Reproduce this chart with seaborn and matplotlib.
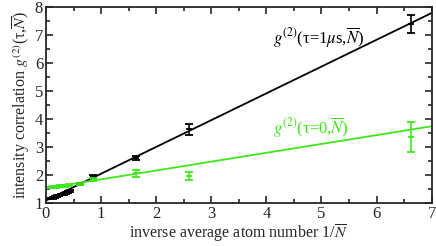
import matplotlib
matplotlib.use("Agg")
import matplotlib.pyplot as plt
from matplotlib.ticker import MultipleLocator
import seaborn as sns
import numpy as np

# black: tau = 1 us
x_black = [0.08, 0.12, 0.16, 0.20, 0.24, 0.28, 0.32, 0.36, 0.40, 0.44, 0.62, 0.86, 1.63, 2.60, 6.62]
y_black = [1.17, 1.20, 1.23, 1.25, 1.28, 1.31, 1.34, 1.37, 1.40, 1.43, 1.70, 1.97, 2.62, 3.65, 7.40]
e_black = [0.03, 0.03, 0.03, 0.03, 0.03, 0.03, 0.03, 0.03, 0.03, 0.03, 0.04, 0.05, 0.07, 0.20, 0.33]

# green: tau = 0
x_green = [0.06, 0.10, 0.14, 0.18, 0.22, 0.26, 0.30, 0.34, 0.38, 0.42, 0.62, 0.86, 1.63, 2.60, 6.62]
y_green = [1.56, 1.57, 1.58, 1.59, 1.60, 1.61, 1.62, 1.63, 1.64, 1.65, 1.70, 1.85, 2.07, 1.98, 3.38]
e_green = [0.03, 0.03, 0.03, 0.03, 0.03, 0.03, 0.03, 0.03, 0.03, 0.03, 0.04, 0.05, 0.12, 0.13, 0.53]

# linear fits: intercept, slope
fit_black = [1.10, 0.957]
fit_green = [1.54, 0.316]

black = "black"
green = "#3ee81c"

sns.set_style("ticks")
plt.rcParams["font.family"] = ["Liberation Serif", "DejaVu Serif"]
plt.rcParams["mathtext.fontset"] = "stix"

fig = plt.figure(figsize=(4.36, 2.46), dpi=100)
ax = fig.add_axes([0.1055, 0.1736, 0.8845, 0.7964])

xx = np.array([0, 7])
sns.lineplot(x=xx, y=fit_black[0] + fit_black[1] * xx, color=black, lw=1.3, ax=ax)
sns.lineplot(x=xx, y=fit_green[0] + fit_green[1] * xx, color=green, lw=1.3, ax=ax)

ax.errorbar(x_black, y_black, yerr=e_black, fmt="_", color=black, ms=5, mew=1.3,
            elinewidth=1.2, capsize=3, capthick=1.2)
ax.errorbar(x_green, y_green, yerr=e_green, fmt="_", color=green, ms=5, mew=1.3,
            elinewidth=1.2, capsize=3, capthick=1.2)

ax.text(4.12, 6.9, r"$g^{(2)}$(τ=1$\mu$s,$\overline{N}$)", color=black,
        fontsize=12, va="center")
ax.text(4.12, 3.69, r"$g^{(2)}$(τ=0,$\overline{N}$)", color=green,
        fontsize=12, va="center")

ax.set_xlim(0, 7)
ax.set_ylim(1, 8)
ax.xaxis.set_major_locator(MultipleLocator(1))
ax.xaxis.set_minor_locator(MultipleLocator(0.5))
ax.yaxis.set_major_locator(MultipleLocator(1))
ax.yaxis.set_minor_locator(MultipleLocator(0.5))
ax.tick_params(which="both", direction="in", top=True, right=True, width=1.2,
               labelsize=12, pad=2)
ax.tick_params(which="major", length=5)
ax.tick_params(which="minor", length=3)
for s in ax.spines.values():
    s.set_linewidth(1.3)

ax.set_xlabel(r"inverse average atom number 1/$\overline{N}$", fontsize=11.5, labelpad=0)
ax.set_ylabel(r"intensity correlation $g^{(2)}$(τ,$\overline{N}$)", fontsize=11.5, labelpad=2)

fig.savefig("out.png", dpi=100)
